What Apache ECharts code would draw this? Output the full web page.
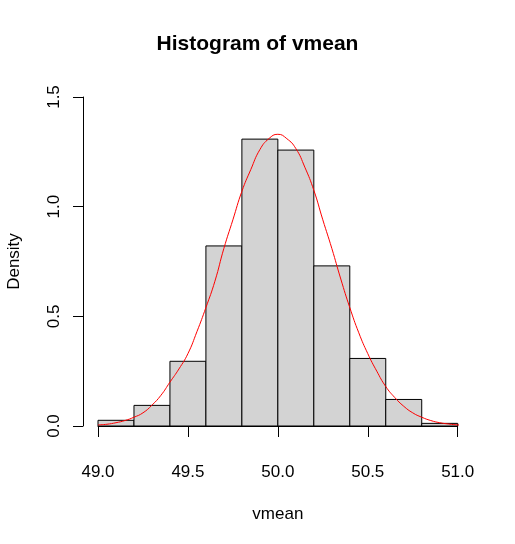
<!DOCTYPE html>
<html>
<head>
<meta charset="utf-8">
<script src="https://cdn.jsdelivr.net/npm/echarts@6/dist/echarts.min.js"></script>
<style>
  html, body { margin: 0; padding: 0; background: #fff; }
  #main { width: 515px; height: 544px; }
</style>
</head>
<body>
<div id="main"></div>
<script>
// histogram bins (left edge, right edge) and density of each bin
var binStart = [49.0, 49.2, 49.4, 49.6, 49.8, 50.0, 50.2, 50.4, 50.6, 50.8];
var binEnd = [49.2, 49.4, 49.6, 49.8, 50.0, 50.2, 50.4, 50.6, 50.8, 51.0];
var density = [0.026, 0.094, 0.295, 0.821, 1.308, 1.258, 0.730, 0.308, 0.121, 0.012];

// red density curve
var curveX = [49.00, 49.05, 49.10, 49.15, 49.20, 49.25, 49.30, 49.35, 49.40, 49.45,
              49.50, 49.55, 49.60, 49.65, 49.70, 49.75, 49.80, 49.85, 49.90, 49.95,
              50.00, 50.05, 50.10, 50.15, 50.20, 50.25, 50.30, 50.35, 50.40, 50.45,
              50.50, 50.55, 50.60, 50.65, 50.70, 50.75, 50.80, 50.85, 50.90, 50.95,
              51.00, 51.05, 51.09];
var curveY = [0.005, 0.008, 0.015, 0.025, 0.040, 0.060, 0.095, 0.140, 0.200, 0.260,
              0.330, 0.430, 0.540, 0.660, 0.810, 0.940, 1.070, 1.170, 1.260, 1.310,
              1.330, 1.310, 1.265, 1.180, 1.075, 0.940, 0.810, 0.670, 0.540, 0.425,
              0.330, 0.250, 0.180, 0.130, 0.090, 0.060, 0.040, 0.025, 0.015, 0.009,
              0.005, 0.003, 0.002];

var xTicks = [49.0, 49.5, 50.0, 50.5, 51.0];
var yTicks = [0.0, 0.5, 1.0, 1.5];

var histData = [];
for (var i = 0; i < binStart.length; i++) {
    histData.push([binStart[i], binEnd[i], density[i]]);
}
var curveData = [];
for (var j = 0; j < curveX.length; j++) {
    curveData.push([curveX[j], curveY[j]]);
}

var myChart = echarts.init(document.getElementById('main'), null, { renderer: 'canvas' });

var font = 'Liberation Sans, Arial, sans-serif';

var option = {
    backgroundColor: '#ffffff',
    animation: false,
    title: {
        text: 'Histogram of vmean',
        left: 'center',
        top: 29,
        textStyle: { fontFamily: font, fontSize: 21, fontWeight: 'bold', color: '#000' }
    },
    grid: { left: 98, right: 57.3, top: 97, bottom: 118, containLabel: false, outerBoundsMode: 'none' },
    xAxis: {
        type: 'value',
        min: xTicks[0],
        max: xTicks[xTicks.length - 1],
        interval: 0.5,
        offset: 13,
        name: 'vmean',
        nameLocation: 'middle',
        nameGap: 67,
        nameTextStyle: { fontFamily: font, fontSize: 17, color: '#000' },
        axisLine: { lineStyle: { color: '#000', width: 1 } },
        axisTick: { length: 11, lineStyle: { color: '#000' } },
        axisLabel: {
            margin: 25, fontFamily: font, fontSize: 17, color: '#000',
            formatter: function (v) { return v.toFixed(1); }
        },
        splitLine: { show: false }
    },
    yAxis: {
        type: 'value',
        min: yTicks[0],
        max: yTicks[yTicks.length - 1],
        interval: 0.5,
        offset: 15,
        name: 'Density',
        nameLocation: 'middle',
        nameGap: 60,
        nameRotate: 90,
        nameTextStyle: { fontFamily: font, fontSize: 17, color: '#000' },
        axisLine: { show: true, lineStyle: { color: '#000', width: 1 } },
        axisTick: { show: true, length: 10, lineStyle: { color: '#000' } },
        axisLabel: {
            rotate: 90, margin: 20, fontFamily: font, fontSize: 17, color: '#000',
            formatter: function (v) { return v.toFixed(1); }
        },
        splitLine: { show: false }
    },
    series: [
        {
            type: 'custom',
            data: histData,
            renderItem: function (params, api) {
                var p0 = api.coord([api.value(0), api.value(2)]);
                var p1 = api.coord([api.value(1), 0]);
                return {
                    type: 'rect',
                    shape: { x: p0[0], y: p0[1], width: p1[0] - p0[0], height: p1[1] - p0[1] },
                    style: { fill: '#d3d3d3', stroke: '#000', lineWidth: 1 }
                };
            },
            encode: { x: [0, 1], y: 2 }
        },
        {
            type: 'line',
            data: curveData,
            smooth: true,
            symbol: 'none',
            clip: false,
            lineStyle: { color: '#ff0000', width: 1 }
        }
    ]
};

myChart.setOption(option);
</script>
</body>
</html>
